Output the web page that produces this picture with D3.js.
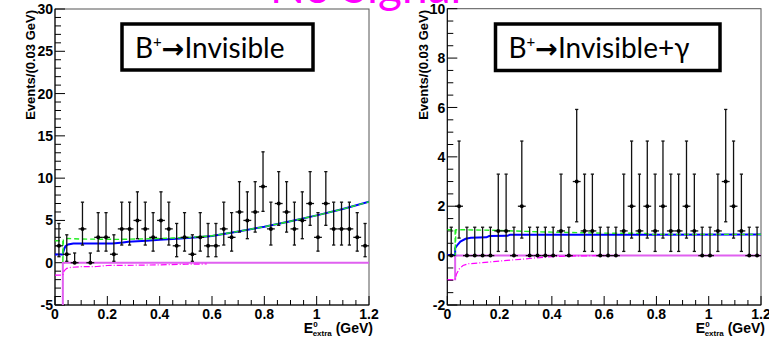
<!DOCTYPE html>
<html>
<head>
<meta charset="utf-8">
<script src="https://cdn.jsdelivr.net/npm/d3@7/dist/d3.min.js"></script>
<style>
  body { margin: 0; background: #fff; }
  svg { display: block; }
</style>
</head>
<body>
<svg></svg>
<script>
// histogram binning (GeV)
const binWidth = 0.03;

// events per bin
const countsInvisible = [2, 1, 0, 4, 0, 3, 3, 1, 4, 4, 5, 4, 3, 5, 4, 2, 3, 1, 3, 2,
  2, 4, 3, 6, 5, 6, 9, 4, 7, 6, 4, 5, 7, 3, 7, 4, 4, 4, 3, 2];
const countsGamma = [0, 2, 0, 0, 0, 0, 1, 1, 0, 2, 0, 0, 0, 0, 1, 0, 3, 1, 1, 0,
  0, 0, 1, 2, 1, 2, 1, 2, 1, 1, 2, 1, 0, 0, 1, 3, 2, 1, 0, 0];

// poisson error band ends by count (as drawn)
const poissonLow = [0, 0.17, 0.71, 1.37, 2.09, 2.84, 3.62, 4.42, 5.23, 6.07];
const poissonHigh = [1.15, 3.30, 4.64, 5.92, 7.16, 8.38, 9.58, 10.77, 11.95, 13.11];

// fit curves [E, events]
const invBkg = [[0, 0.97], [0.03, 0.97], [0.03, 1.1], [0.035, 1.6], [0.04, 1.95], [0.05, 2.15],
  [0.07, 2.28], [0.22, 2.28], [0.26, 2.4], [0.28, 2.48], [0.35, 2.6], [0.4, 2.72], [0.48, 2.85],
  [0.52, 2.95], [0.58, 3.1], [0.6, 3.15], [0.7, 3.7], [0.8, 4.25], [0.9, 4.9], [1.0, 5.6],
  [1.1, 6.35], [1.2, 7.2]];
const invTotal = [[0, 2.6], [0.03, 2.6], [0.03, 0], [0.032, 2.75], [0.05, 2.87], [0.1, 2.8],
  [0.24, 2.76], [0.36, 2.83], [0.45, 2.92], [0.52, 3.0], [0.6, 3.18], [0.7, 3.7], [0.8, 4.25],
  [0.9, 4.9], [1.0, 5.6], [1.1, 6.35], [1.2, 7.2]];
const invSigDash = [[0, -1.46], [0.03, -1.46], [0.035, -0.95], [0.045, -0.67], [0.06, -0.55],
  [0.1, -0.47], [0.16, -0.45], [0.2, -0.33], [0.3, -0.3], [0.4, -0.25], [0.5, -0.18], [0.58, -0.15]];
const invSigLine = [[0.03, -6], [0.03, 0], [1.2, 0]];

const gamBkg = [[0, 0.02], [0.03, 0.02], [0.03, 0.3], [0.04, 0.45], [0.05, 0.57], [0.07, 0.68],
  [0.09, 0.72], [0.15, 0.74], [0.16, 0.79], [0.23, 0.8], [0.24, 0.85], [0.7, 0.85], [1.2, 0.86]];
const gamTotal = [[0, 1.05], [0.03, 1.05], [0.03, 0], [0.033, 1.05], [0.1, 1.04], [0.2, 1.02],
  [0.3, 0.98], [0.4, 0.95], [0.5, 0.93], [0.6, 0.91], [0.76, 0.9], [0.77, 0.86], [1.2, 0.86]];
const gamSigDash = [[0, -0.97], [0.03, -0.97], [0.035, -0.75], [0.045, -0.55], [0.06, -0.4],
  [0.08, -0.33], [0.12, -0.3], [0.2, -0.22], [0.28, -0.15], [0.33, -0.1], [0.4, -0.04],
  [0.5, -0.01], [0.6, 0]];
const gamSigLine = [[0.03, -1], [0.03, 0], [1.2, 0]];

const xTicks = [0, 0.2, 0.4, 0.6, 0.8, 1, 1.2];

const svg = d3.select("svg").attr("width", 769).attr("height", 337);
svg.append("rect").attr("width", 769).attr("height", 337).attr("fill", "#fff");

// title at the top, mostly cut off by the page edge
svg.append("text")
  .attr("x", 270).attr("y", 3)
  .attr("font-family", "Lato, 'Open Sans', sans-serif")
  .attr("font-size", 46)
  .attr("fill", "#ff00ff")
  .text("No Signal");

const panels = [
  {
    id: "inv", left: 55, right: 369, top: 9, bottom: 305,
    yDomain: [-5, 30], yMajor: d3.range(-5, 31, 5), yMinor: d3.range(-5, 30.1, 1),
    counts: countsInvisible, bkg: invBkg, total: invTotal, sigDash: invSigDash, sigLine: invSigLine,
    box: { x: 122, y: 24, w: 191, h: 46 }, label: ["B", "+", "\u2192", "Invisible"], titleX: 30
  },
  {
    id: "gam", left: 447.3, right: 761, top: 8.7, bottom: 305,
    yDomain: [-2, 10], yMajor: d3.range(-2, 11, 2), yMinor: d3.range(-2, 10.01, 0.5),
    counts: countsGamma, bkg: gamBkg, total: gamTotal, sigDash: gamSigDash, sigLine: gamSigLine,
    box: { x: 495.5, y: 24, w: 224.5, h: 46.5 }, label: ["B", "+", "\u2192", "Invisible+\u03b3"], titleX: 423
  }
];

panels.forEach((p) => {
  const x = d3.scaleLinear().domain([0, 1.2]).range([p.left, p.right]);
  const y = d3.scaleLinear().domain(p.yDomain).range([p.bottom, p.top]);
  const g = svg.append("g");

  g.append("clipPath").attr("id", "clip-" + p.id)
    .append("rect")
    .attr("x", p.left).attr("y", p.top)
    .attr("width", p.right - p.left).attr("height", p.bottom - p.top);

  // frame
  g.append("rect")
    .attr("x", p.left).attr("y", p.top)
    .attr("width", p.right - p.left).attr("height", p.bottom - p.top)
    .attr("fill", "none").attr("stroke", "#555").attr("stroke-width", 1);

  // ticks (inside the frame)
  const ticks = g.append("g").attr("stroke", "#000").attr("stroke-width", 1);
  const xMinor = d3.range(0, 1.2001, 0.05);
  ticks.selectAll(".xt").data(xMinor).join("line")
    .attr("x1", (d) => x(d)).attr("x2", (d) => x(d))
    .attr("y1", p.bottom)
    .attr("y2", (d) => p.bottom - (xTicks.some((t) => Math.abs(t - d) < 1e-6) ? 9 : 5));
  ticks.selectAll(".yt").data(p.yMinor).join("line")
    .attr("y1", (d) => y(d)).attr("y2", (d) => y(d))
    .attr("x1", p.left)
    .attr("x2", (d) => p.left + (p.yMajor.some((t) => Math.abs(t - d) < 1e-6) ? 10 : 6));
  g.append("line").attr("x1", p.left).attr("x2", p.left).attr("y1", p.top).attr("y2", p.bottom)
    .attr("stroke", "#000");
  g.append("line").attr("x1", p.left).attr("x2", p.right).attr("y1", p.bottom).attr("y2", p.bottom)
    .attr("stroke", "#000");

  // tick labels
  const lab = g.append("g")
    .attr("font-family", "'Liberation Sans', Arial, sans-serif")
    .attr("font-weight", "bold").attr("font-size", 14).attr("fill", "#000");
  lab.selectAll(".xl").data(xTicks).join("text")
    .attr("x", (d) => x(d)).attr("y", 318.5)
    .attr("text-anchor", "middle")
    .text((d) => d3.format("~g")(d));
  lab.selectAll(".yl").data(p.yMajor).join("text")
    .attr("x", p.left - 2).attr("y", (d) => y(d)).attr("dy", "0.36em")
    .attr("text-anchor", "end")
    .text((d) => String(d));

  // axis titles
  const xt = g.append("text")
    .attr("x", p.right + 4).attr("y", 333)
    .attr("text-anchor", "end")
    .attr("font-family", "'Liberation Sans', Arial, sans-serif")
    .attr("font-weight", "bold").attr("font-size", 14);
  xt.append("tspan").text("E");
  xt.append("tspan").attr("font-size", 8).attr("dy", -6).text("0");
  xt.append("tspan").attr("font-size", 8).attr("dx", -5).attr("dy", 9).text("extra");
  xt.append("tspan").attr("dy", -3).text(" (GeV)");

  g.append("text")
    .attr("transform", `translate(${p.titleX + 5},10) rotate(-90)`)
    .attr("text-anchor", "end")
    .attr("font-family", "'Liberation Sans', Arial, sans-serif")
    .attr("font-weight", "bold").attr("font-size", 13)
    .text("Events/(0.03 GeV)");

  // fit curves
  const line = d3.line().x((d) => x(d[0])).y((d) => y(d[1]));
  const curves = g.append("g").attr("clip-path", `url(#clip-${p.id})`).attr("fill", "none");
  curves.append("path").attr("d", line(p.sigLine))
    .attr("stroke", "#e060f0").attr("stroke-width", 2);
  curves.append("path").attr("d", line(p.sigDash))
    .attr("stroke", "#ff00ff").attr("stroke-width", 1.2).attr("stroke-dasharray", "6,2,1,2");
  curves.append("path").attr("d", line(p.bkg))
    .attr("stroke", "#0000ff").attr("stroke-width", 2);
  curves.append("path").attr("d", line(p.total))
    .attr("stroke", "#22ee22").attr("stroke-width", 1.4).attr("stroke-dasharray", "5,3");

  // data points with error bars
  const pts = p.counts.map((n, i) => ({ c: (i + 0.5) * binWidth, n: n }));
  const dots = g.append("g").attr("stroke", "#111").attr("stroke-width", 1.3);
  dots.selectAll(".ev").data(pts).join("line")
    .attr("x1", (d) => x(d.c)).attr("x2", (d) => x(d.c))
    .attr("y1", (d) => y(poissonLow[d.n])).attr("y2", (d) => y(poissonHigh[d.n]));
  dots.selectAll(".eh").data(pts).join("line")
    .attr("x1", (d) => x(d.c - binWidth / 2)).attr("x2", (d) => x(d.c + binWidth / 2))
    .attr("y1", (d) => y(d.n)).attr("y2", (d) => y(d.n));
  dots.selectAll(".capT").data(pts).join("line")
    .attr("x1", (d) => x(d.c) - 1.6).attr("x2", (d) => x(d.c) + 1.6)
    .attr("y1", (d) => y(poissonHigh[d.n])).attr("y2", (d) => y(poissonHigh[d.n]));
  dots.selectAll(".capB").data(pts.filter((d) => d.n > 0)).join("line")
    .attr("x1", (d) => x(d.c) - 1.6).attr("x2", (d) => x(d.c) + 1.6)
    .attr("y1", (d) => y(poissonLow[d.n])).attr("y2", (d) => y(poissonLow[d.n]));
  g.append("g").selectAll("circle").data(pts).join("circle")
    .attr("cx", (d) => x(d.c)).attr("cy", (d) => y(d.n)).attr("r", 2)
    .attr("fill", "#000");

  // label box
  g.append("rect")
    .attr("x", p.box.x).attr("y", p.box.y).attr("width", p.box.w).attr("height", p.box.h)
    .attr("fill", "#fff").attr("stroke", "#000").attr("stroke-width", 3.5);
  const bt = g.append("text")
    .attr("x", p.box.x + 13).attr("y", p.box.y + 34)
    .attr("font-family", "Lato, 'Open Sans', sans-serif")
    .attr("font-size", 28).attr("fill", "#000");
  bt.append("tspan").text(p.label[0]);
  bt.append("tspan").attr("font-size", 15).attr("dy", -11).text(p.label[1]);
  bt.append("tspan").attr("font-family", "'DejaVu Sans', sans-serif").attr("font-weight", "bold")
    .attr("font-size", 27).attr("dy", 11).text(p.label[2]);
  bt.append("tspan").text(p.label[3]);
});
</script>
</body>
</html>
